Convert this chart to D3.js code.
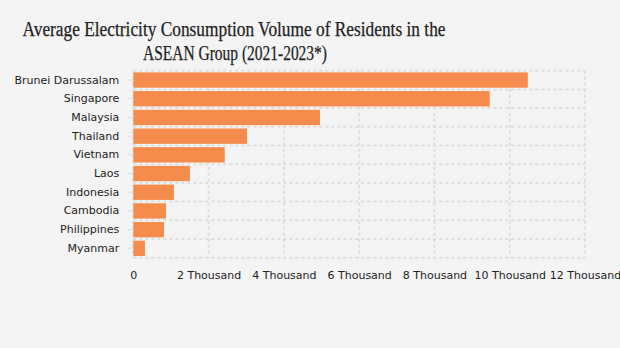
<!DOCTYPE html>
<html><head><meta charset="utf-8">
<script src="https://cdn.jsdelivr.net/npm/d3@7/dist/d3.min.js"></script>
<style>
html,body{margin:0;padding:0;background:#f4f4f4;}
svg{display:block;}
</style></head>
<body>
<script>
const categories = ["Brunei Darussalam","Singapore","Malaysia","Thailand","Vietnam","Laos","Indonesia","Cambodia","Philippines","Myanmar"];
const values = [10480, 9470, 4960, 3020, 2430, 1505, 1080, 870, 815, 310];
const tickValues = [0, 2000, 4000, 6000, 8000, 10000, 12000];
const tickLabels = ["0","2 Thousand","4 Thousand","6 Thousand","8 Thousand","10 Thousand","12 Thousand"];
const titleLines = ["Average Electricity Consumption Volume of Residents in the", "ASEAN Group (2021-2023*)"];

(function(){
const W = 620, H = 348;
const svg = d3.select("body").append("svg").attr("width", W).attr("height", H);
svg.append("rect").attr("width", W).attr("height", H).attr("fill", "#f4f4f4");

const mL = 133.3, mR = 585, mT = 70.7, mB = 257.7;
const x = d3.scaleLinear().domain([0, 12000]).range([mL, mR]);
const y = d3.scaleBand().domain(categories).range([mT, mB]).paddingInner(0.18).paddingOuter(0.09);

// grid
const grid = svg.append("g").attr("stroke", "#dedede").attr("stroke-width", 2).attr("stroke-dasharray", "3,3");
tickValues.forEach(v => {
  grid.append("line").attr("x1", x(v)).attr("x2", x(v)).attr("y1", mT).attr("y2", mB);
});
const step = (mB - mT) / categories.length;
d3.range(categories.length + 1).forEach(i => {
  const yy = mT + i * step;
  grid.append("line").attr("x1", mL).attr("x2", mR).attr("y1", yy).attr("y2", yy);
});

// bars
svg.append("g").selectAll("rect").data(categories).join("rect")
  .attr("x", x(0)).attr("y", d => y(d))
  .attr("width", (d, i) => x(values[i]) - x(0))
  .attr("height", y.bandwidth())
  .attr("fill", "#f58b4c");

// y axis
const yAxis = d3.axisLeft(y).tickSize(5).tickPadding(8);
const gy = svg.append("g").attr("transform", `translate(${mL - 1},0)`).call(yAxis);
gy.select(".domain").remove();
gy.selectAll(".tick line").attr("stroke", "#dcdcdc");
gy.selectAll("text").attr("font-family", "DejaVu Sans, Verdana, sans-serif").attr("font-size", 11).attr("fill", "#222");

// x axis
const xAxis = d3.axisBottom(x).tickValues(tickValues).tickFormat((d, i) => tickLabels[i]).tickSize(0).tickPadding(12);
const gx = svg.append("g").attr("transform", `translate(0,${mB + 2})`).call(xAxis);
gx.select(".domain").remove();
gx.selectAll("text").attr("font-family", "DejaVu Sans, Verdana, sans-serif").attr("font-size", 11).attr("fill", "#222");

// title
const tcx = 234;
svg.append("text").attr("x", tcx).attr("y", 36).attr("text-anchor", "middle")
  .attr("font-family", "Liberation Serif, serif").attr("font-size", 20).attr("fill", "#222")
  .attr("stroke", "#222").attr("stroke-width", 0.25)
  .attr("textLength", 423).attr("lengthAdjust", "spacingAndGlyphs")
  .text(titleLines[0]);
svg.append("text").attr("x", tcx + 1).attr("y", 60).attr("text-anchor", "middle")
  .attr("font-family", "Liberation Serif, serif").attr("font-size", 20).attr("fill", "#222")
  .attr("stroke", "#222").attr("stroke-width", 0.25)
  .attr("textLength", 184).attr("lengthAdjust", "spacingAndGlyphs")
  .text(titleLines[1]);
})();
</script>
</body></html>
